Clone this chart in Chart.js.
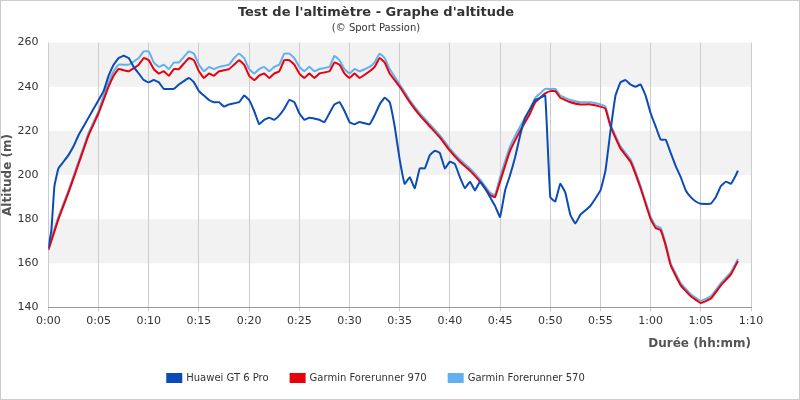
<!DOCTYPE html>
<html><head><meta charset="utf-8">
<script src="https://cdn.jsdelivr.net/npm/chart.js@4"></script>
<style>body{margin:0;background:#fff}#w{width:798px;height:398px;border:1px solid #ccc}</style>
</head><body><div id="w"><canvas id="c"></canvas></div>
<script>
const huaweiX=[0,0.3,0.6,1,1.5,2,2.5,3,3.5,4,4.5,5,5.5,6,6.5,7,7.5,8,8.5,9,9.5,10,10.5,11,11.5,12,12.5,13,14,14.5,15,15.5,16,16.5,17,17.5,18,19,19.5,20,20.5,21,21.5,22,22.5,23,23.5,24,24.5,25,25.5,26,27,27.5,28,28.5,29,29.5,30,30.5,31,32,32.5,33,33.5,34,34.5,35,35.5,36,36.5,37,37.5,38,38.5,39,39.5,40,40.5,41,41.5,42,42.5,43,43.5,44,44.5,45,45.5,46,46.5,47,47.5,48,48.5,49,49.5,50,50.5,51,51.5,52,52.5,53,53.5,54,55,55.5,56,56.5,57,57.5,58,58.5,59,59.5,60,60.5,61,61.5,62,62.5,63,63.5,64,64.5,65,66,66.5,67,67.5,68,68.5,68.7];
const huaweiY=[167,175,195,203,206,209,213,218,222,226,230,234,238,245,250,253,254,253,249,246,243,242,243,242,239,239,239,241,244,242,238,236,234,233,233,231,232,233,236,234,229,223,225,226,225,227,230,234,233,228,225,226,225,224,228,232,233,229,224,223,224,223,227,232,235,233,222,207,196,199,194,203,203,209,211,210,203,206,205,199,194,197,193,197,194,190,186,181,193,200,208,218,226,230,234,235,236,190,188,196,192,182,178,182,184,186,193,202,220,236,242,243,241,240,241,236,228,222,216,216,210,204,199,193,190,188,187,187,190,195,197,196,200,202];
const g970X=[0,1,2,3,4,5,5.5,6,6.5,7,8,9,9.5,10,10.5,11,11.5,12,12.5,13,14,14.5,15,15.5,16,16.5,17,18,18.5,19,19.5,20,20.5,21,21.5,22,22.5,23,23.5,24,24.5,25,25.5,26,26.5,27,28,28.5,29,29.5,30,30.5,31,32,32.5,33,33.5,34,35,36,37,38,39,40,41,42,43,44,44.5,45,46,47,48,48.5,49,49.5,50,50.5,51,52,53,54,55,55.5,56,57,58,59,60,60.5,61,61.5,62,63,64,65,66,67,68,68.7];
const g970Y=[166,180,192,205,218,228,234,240,245,248,247,250,253,252,248,246,247,245,248,248,253,252,247,244,246,245,247,248,250,252,250,245,243,245,246,244,246,247,252,252,250,246,244,246,244,246,247,251,250,246,244,246,244,247,249,253,251,246,240,233,227,222,217,211,206,202,197,191,190,197,211,220,228,233,235,237,238,238,235,233,232,232,231,230,222,212,206,194,180,176,175,168,159,150,145,142,144,150,155,161];
const g570X=[0,1,2,3,4,5,5.5,6,6.5,7,8,9,9.5,10,10.5,11,11.5,12,12.5,13,14,14.5,15,15.5,16,16.5,17,18,18.5,19,19.5,20,20.5,21,21.5,22,22.5,23,23.5,24,24.5,25,25.5,26,26.5,27,28,28.5,29,29.5,30,30.5,31,32,32.5,33,33.5,34,35,36,37,38,39,40,41,42,43,44,44.5,45,46,47,48,48.5,49,49.5,50,50.5,51,52,53,54,55,55.5,56,57,58,59,60,60.5,61,61.5,62,63,64,65,66,67,68,68.7];
const g570Y=[167,181,193,206,219,229,236,242,247,250,250,253,256,256,251,249,250,248,251,251,256,255,250,247,249,248,249,250,253,255,253,248,246,248,249,247,249,250,255,255,253,249,247,249,247,248,249,254,252,248,246,248,247,249,251,255,253,248,241,234,228,223,218,212,207,203,198,192,191,199,213,222,230,235,237,239,239,239,236,234,233,233,232,231,223,213,207,195,181,177,176,169,160,151,146,143,145,151,156,162];
const xTicks=[0,5,10,15,20,25,30,35,40,45,50,55,60,65,70];
const pts=(xs,ys)=>xs.map((x,i)=>({x,y:ys[i]}));
const bands={id:'bands',beforeDraw(c){const {ctx,chartArea:a,scales:{y}}=c;ctx.save();ctx.fillStyle='#f2f2f2';[[240,260],[200,220],[160,180]].forEach(([lo,hi])=>{const t=y.getPixelForValue(hi),b=y.getPixelForValue(lo);ctx.fillRect(a.left,t,a.right-a.left,b-t);});ctx.restore();}};
const fmt=v=>Math.floor(v/60)+':'+String(v%60).padStart(2,'0');
new Chart(document.getElementById('c'),{type:'line',
data:{datasets:[
{label:'Huawei GT 6 Pro',data:pts(huaweiX,huaweiY),borderColor:'#0a4bb5',backgroundColor:'#0a4bb5',borderWidth:2,pointRadius:0,tension:0.1,order:1},
{label:'Garmin Forerunner 970',data:pts(g970X,g970Y),borderColor:'#e8000b',backgroundColor:'#e8000b',borderWidth:2,pointRadius:0,tension:0.1,order:2},
{label:'Garmin Forerunner 570',data:pts(g570X,g570Y),borderColor:'#62b0ee',backgroundColor:'#62b0ee',borderWidth:2,pointRadius:0,tension:0.1,order:3}]},
options:{responsive:true,maintainAspectRatio:false,animation:false,
layout:{padding:{left:0,right:48,top:0,bottom:6}},
plugins:{title:{display:true,text:"Test de l'altimètre - Graphe d'altitude",font:{family:'DejaVu Sans',size:13,weight:'bold'},color:'#333',padding:{top:4,bottom:2}},
subtitle:{display:true,text:'(© Sport Passion)',font:{family:'DejaVu Sans',size:10},color:'#333',padding:{bottom:8}},
legend:{position:'bottom',align:'center',labels:{boxWidth:14,boxHeight:8,font:{family:'DejaVu Sans',size:10},color:'#333',padding:22}},tooltip:{enabled:false}},
scales:{x:{type:'linear',min:0,max:70,afterBuildTicks:s=>{s.ticks=xTicks.map(v=>({value:v}));},
ticks:{callback:v=>fmt(v),font:{family:'DejaVu Sans',size:11},color:'#333',maxRotation:0},
grid:{color:'#ccc',tickLength:4},border:{color:'#999'},
title:{display:true,text:'Durée (hh:mm)',align:'end',font:{family:'DejaVu Sans',size:12,weight:'bold'},color:'#555',padding:{top:6,bottom:0}}},
y:{min:140,max:260,ticks:{stepSize:20,font:{family:'DejaVu Sans',size:11},color:'#333',padding:2},grid:{display:false},border:{display:false},
title:{display:true,text:'Altitude (m)',align:'center',font:{family:'DejaVu Sans',size:12,weight:'bold'},color:'#555',padding:{top:0,bottom:0}}}}},
plugins:[bands]});
</script></body></html>
